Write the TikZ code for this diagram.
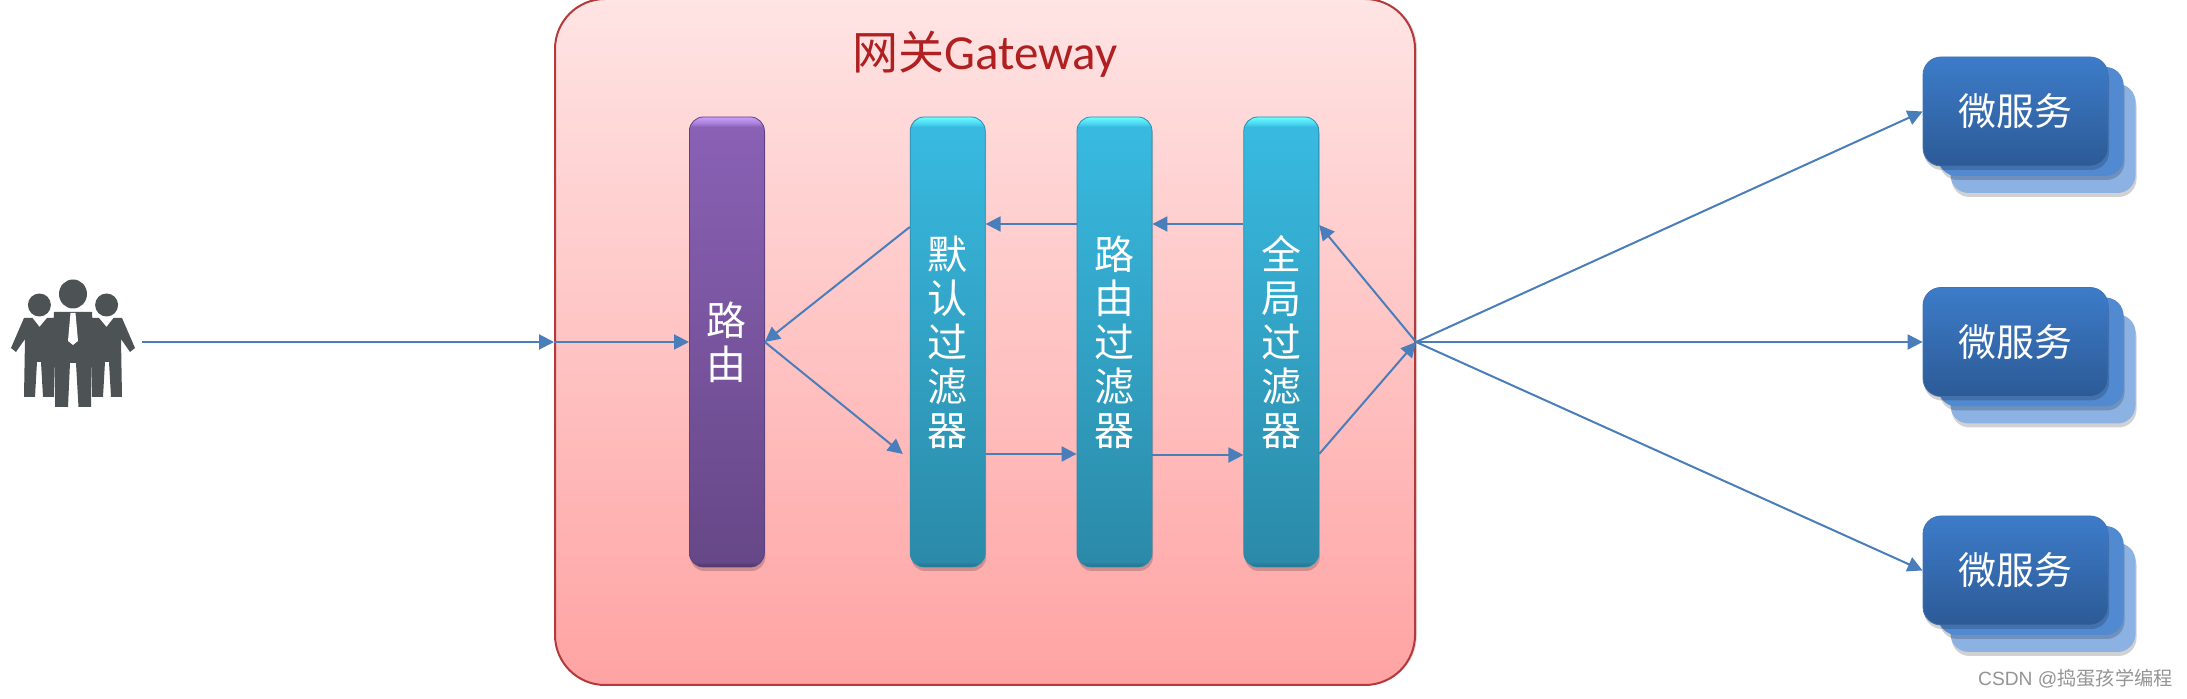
\documentclass[tikz,border=0pt]{standalone}
\usepackage{fontspec}
\setmainfont{Liberation Sans}
\newfontfamily\cjk{Noto Sans CJK SC}
\newfontfamily\latinfont{Carlito}
\usepackage{xcolor}
\usetikzlibrary{positioning,arrows.meta,shadows}
\definecolor{flow}{HTML}{4A7EBB}
\definecolor{gatered}{HTML}{B5393A}
\definecolor{gatetop}{HTML}{FFE4E4}
\definecolor{gatebot}{HTML}{FFA3A3}
\definecolor{titlered}{HTML}{B02020}
\definecolor{people}{HTML}{4D5354}
\definecolor{cardtop}{HTML}{3D7CC9}
\definecolor{cardbot}{HTML}{2C5A96}
\definecolor{cardmid}{HTML}{528AD2}
\definecolor{cardback}{HTML}{8BB2E3}
\definecolor{cardline}{HTML}{4472B0}
\definecolor{cyanedge}{HTML}{2A8CAB}
\definecolor{purpleedge}{HTML}{5E4280}
\pgfdeclareverticalshading{cyanshade}{100bp}{rgb(0bp)=(.14,.44,.54); rgb(25bp)=(.14,.44,.54); rgb(25.6bp)=(.17,.54,.66); rgb(73.9bp)=(.22,.73,.88); rgb(74.3bp)=(.30,.85,.95); rgb(75bp)=(.42,1,1); rgb(100bp)=(.42,1,1)}
\pgfdeclareverticalshading{purpleshade}{100bp}{rgb(0bp)=(.30,.20,.40); rgb(25bp)=(.30,.20,.40); rgb(25.6bp)=(.40,.28,.53); rgb(73.9bp)=(.54,.38,.71); rgb(74.3bp)=(.66,.50,.85); rgb(75bp)=(.80,.62,1); rgb(100bp)=(.80,.62,1)}
\tikzset{
  softshadow/.style={general shadow={shadow xshift=.5pt, shadow yshift=-2pt, fill=black, opacity=.18}},
  gatebox/.style={draw=gatered, line width=1pt, rounded corners=25pt, top color=gatetop, bottom color=gatebot, minimum width=430pt, minimum height=343pt, general shadow={shadow xshift=1pt, shadow yshift=0pt, fill=black, opacity=.15}},
  barbox/.style={rounded corners=7pt, minimum width=37.5pt, minimum height=225pt, text width=37.5pt, inner sep=0pt, align=center, text=white, font=\cjk\fontsize{20pt}{22pt}\selectfont, softshadow},
  routebar/.style={barbox, shading=purpleshade, draw=purpleedge},
  filterbar/.style={barbox, shading=cyanshade, draw=cyanedge},
  cardbox/.style={rounded corners=9pt, minimum width=92.5pt, minimum height=54.5pt, inner sep=0pt, softshadow},
  cardfront/.style={cardbox, top color=cardtop, bottom color=cardbot, draw=cardline, text=white, font=\cjk\fontsize{19pt}{22pt}\selectfont},
  cardtwo/.style={cardbox, fill=cardmid},
  cardthree/.style={cardbox, fill=cardback},
  flowarrow/.style={-{Triangle[length=7.5pt,width=7.5pt]}, draw=flow, fill=flow, line width=1pt}
}
\begin{document}
\begin{tikzpicture}[node distance=60.75pt and 45.5pt]
  \useasboundingbox (0,0) rectangle (1093.5pt,349.5pt);
  \node[gatebox] (gateway) at (492.5pt,178.5pt) {};
  \node[font=\fontsize{23pt}{26pt}\selectfont, text=titlered, below=13pt of gateway.north] (title) {{\cjk 网关}{\latinfont\fontsize{24.5pt}{26pt}\selectfont Gateway}};
  \node[routebar, right=67.5pt of gateway.west] (route) {路\\由};
  \node[filterbar, right=72.5pt of route] (filterone) {默\\认\\过\\滤\\器};
  \node[filterbar, right=of filterone] (filtertwo) {路\\由\\过\\滤\\器};
  \node[filterbar, right=of filtertwo] (filterthree) {全\\局\\过\\滤\\器};
  % the three service stacks
  \foreach \name/\ypos in {one/293.75pt,two/178.5pt,three/64.25pt}{
    \node[cardthree] at (1021.5pt,\ypos-13.5pt) (back\name) {};
    \node[cardtwo] at (1015.5pt,\ypos-5pt) (mid\name) {};
    \node[cardfront] at (1007.75pt,\ypos) (service\name) {微服务};
  }
  % people
  \foreach \sx/\ox in {1/0,-1/146}{
    \begin{scope}[x=.5pt,y=-.5pt,yshift=349.5pt,xshift=\ox*.5pt,xscale=\sx]
      \fill[people] (39.4,305) circle (11.5);
      \fill[people] (24,318) -- (11,348) -- (16,352) -- (25,339) -- (24,397) -- (35,397) -- (37,362) -- (41,362) -- (43,397) -- (54,397) -- (56,318) -- (47,318) -- (39.5,327) -- (32.5,318) -- cycle;
    \end{scope}
  }
  \begin{scope}[x=.5pt,y=-.5pt,yshift=349.5pt]
    \fill[people] (73,294) ellipse (14 and 14.5);
    \fill[people] (54,312) -- (92,312) -- (94,350) -- (91,356) -- (91,407) -- (78.5,407) -- (76,363) -- (70,363) -- (68,407) -- (55,407) -- (55,356) -- (52,350) -- cycle;
    \fill[white] (70.5,313) -- (75.5,313) -- (78,341) -- (73,345) -- (68,341) -- cycle;
  \end{scope}
  \coordinate (users) at (71pt,178.5pt);
  % connectors
  \draw[flowarrow] (users) -- (gateway.west);
  \draw[flowarrow] (gateway.west) -- (route.west);
  \draw[flowarrow] ([yshift=57.5pt]filterone.west) -- (route.east);
  \draw[flowarrow] (route.east) -- ([xshift=-3.5pt,yshift=-56pt]filterone.west);
  \draw[flowarrow] ([yshift=-56pt]filterone.east) -- ([yshift=-56pt]filtertwo.west);
  \draw[flowarrow] ([yshift=-56.5pt]filtertwo.east) -- ([yshift=-56.5pt]filterthree.west);
  \draw[flowarrow] ([yshift=-56pt]filterthree.east) -- (gateway.east);
  \draw[flowarrow] (gateway.east) -- ([yshift=58.5pt]filterthree.east);
  \draw[flowarrow] ([yshift=59pt]filterthree.west) -- ([yshift=59pt]filtertwo.east);
  \draw[flowarrow] ([yshift=59pt]filtertwo.west) -- ([yshift=59pt]filterone.east);
  \draw[flowarrow] (gateway.east) -- (serviceone.west);
  \draw[flowarrow] (gateway.east) -- (servicetwo.west);
  \draw[flowarrow] (gateway.east) -- (servicethree.west);
  \node[anchor=east, text=black!42, font=\fontsize{9.6pt}{12pt}\selectfont, inner sep=0pt] (mark) at (1086.5pt,10pt) {CSDN @{\cjk 捣蛋孩学编程}};
\end{tikzpicture}
\end{document}
